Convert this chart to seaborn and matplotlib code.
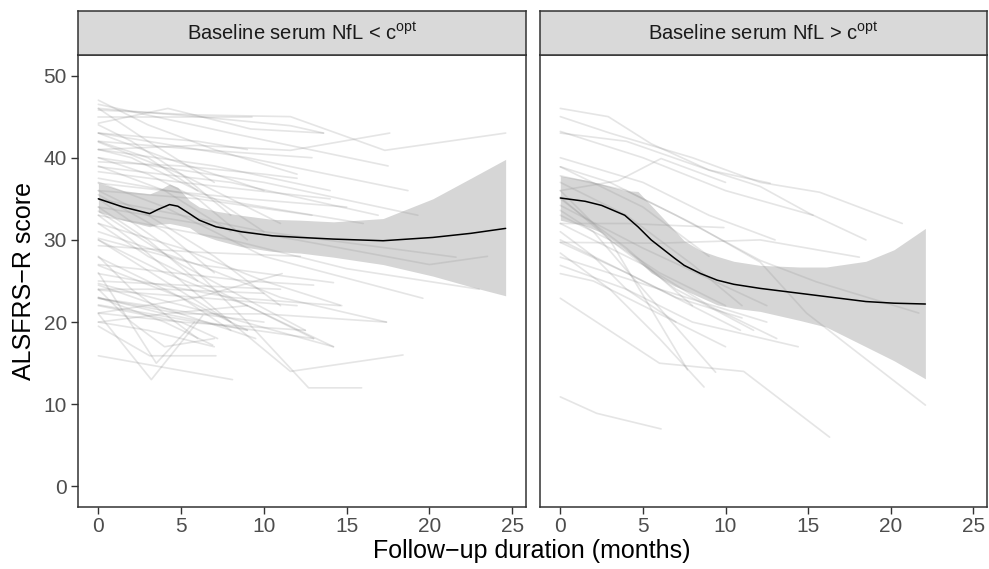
import matplotlib
matplotlib.use("Agg")
import matplotlib.pyplot as plt
import seaborn as sns
import pandas as pd

# ---------------- data ----------------
# individual trajectories, baseline NfL < c_opt
low_time = [
    [0, 3, 7, 12], [0, 4.2, 9.2, 13.6], [0, 5, 9.3], [0, 6, 11.6, 17.3, 24.6],
    [0, 6, 11.6, 17.6], [0, 6, 11.6, 13.6], [0, 8, 17.5], [0, 9, 18.7],
    [0, 6, 12.9], [0, 10, 19.3], [0, 8, 16.9], [0, 6, 12.9], [0, 7, 14],
    [0, 4, 10], [0, 5, 11], [0, 3, 6, 9], [0, 4, 8], [0, 5, 14], [0, 4, 9, 15],
    [0, 2, 5, 8], [0, 3, 6], [0, 5, 10, 12], [0, 3, 7], [0, 2, 4, 7, 10], [0, 6, 9],
    [0, 3, 7, 11], [0, 5, 10, 21.6], [0, 6, 12, 20, 23.5], [0, 8, 15, 23],
    [0, 4, 10, 19.6], [0, 5, 10, 14.7], [0, 6, 11, 17.4], [0, 4, 9, 14.2],
    [0, 5, 12.5], [0, 3, 7, 13], [0, 5, 9, 12.7, 15.9], [0, 4, 8, 11.6, 18.4],
    [0, 6, 14.2], [0, 6, 12.2], [0, 3, 6], [0, 2, 5, 8], [0, 4, 7], [0, 7, 16],
    [0, 8.1], [0, 3.1, 7.1], [0, 3.2, 6.3], [0, 3.5, 5.8], [0, 5, 7.2], [0, 4, 6.9],
    [0, 6, 12], [0, 5, 10, 17.4], [0, 7, 14.2], [0, 6, 13], [0, 5, 12.5],
    [0, 8, 14.6], [0, 4, 9], [0, 3, 7], [0, 4, 10], [0, 5, 11], [0, 3, 6, 10],
    [0, 2, 6], [0, 5, 8], [0, 4, 9], [0, 6, 11.1], [0, 9, 13], [0, 2, 4, 7],
    [0, 4, 9], [0, 5, 9.5],
]
low_score = [
    [47, 44, 41, 38], [44.2, 46, 43.5, 43], [45, 45, 45], [45.8, 45.2, 45, 40.9, 43],
    [41, 41.5, 40.9, 43], [46, 45, 43.9, 43], [46.5, 43, 39], [43, 40, 36],
    [42, 41, 40], [40, 37, 33], [38.9, 37, 33], [36, 35, 33], [41, 39, 36],
    [43, 40, 36], [41.9, 38, 32], [40, 38, 35, 30], [39, 36, 31], [38.3, 37, 35], [36.9, 36, 35, 34],
    [44, 42, 38, 33], [42, 40, 36], [39.5, 39, 38, 37.5], [46, 42, 37], [41, 40, 38, 35, 31], [43, 42, 41],
    [36, 33, 28, 22], [35, 33, 31, 27.9], [34, 32, 30, 27, 28], [33, 30, 26.5, 24],
    [37, 34, 28, 22.9], [32, 29, 25, 22], [31, 27, 23, 20], [30, 26, 22, 17],
    [33.5, 27, 19], [32, 28, 24, 18], [35, 28, 20, 12, 12], [30, 25, 20, 14, 16],
    [30.2, 27, 24.8], [29.3, 28.5, 28], [34, 30, 25], [33, 30, 25, 20], [35.5, 31, 26], [37.5, 35, 32],
    [15.9, 13], [19.5, 15.9, 15.9], [21, 13, 20.8], [26, 15, 20], [22, 20, 18], [23, 20, 17.2],
    [23.9, 23, 22], [22.9, 21, 21, 20], [24.7, 21, 17], [22.1, 20, 18], [21.1, 20, 19],
    [25.9, 23, 22], [27.9, 24, 19], [20, 19, 17], [24, 24, 23.5], [25, 24.5, 24], [22.9, 22, 21, 20],
    [28, 24, 18], [26.9, 23, 19], [23, 21, 19], [21.1, 23, 25.9], [27, 25, 24.5], [24, 20, 17, 18],
    [20, 21, 22], [24.5, 21, 18],
]

# individual trajectories, baseline NfL > c_opt
high_time = [
    [0, 2.9, 5.5, 9, 12.7], [0, 3, 8, 12.1, 15.7, 20.7], [0, 4, 9, 12.1, 15.1, 18.5],
    [0, 5, 10, 15.3], [0, 6, 12.1, 18.1], [0, 3, 7, 12.1, 15.5, 21.7],
    [0, 4, 8, 12.1, 14.9, 22.1], [0, 6, 11.1, 16.3], [0, 2.2, 6.1], [0, 3, 6, 8.7],
    [0, 2, 5, 9.4], [0, 3, 7.7], [0, 4, 8, 14.4], [0, 5, 9, 13.1], [0, 3, 7, 11.7],
    [0, 4, 10.9], [0, 5, 12.5], [0, 4, 8, 11], [0, 3.5, 6.1, 10], [0, 2, 6, 10],
    [0, 4, 9.9], [0, 5, 9, 13], [0, 3, 6, 10], [0, 2, 4, 7], [0, 6, 12.5],
    [0, 4, 8], [0, 3, 7, 11], [0, 5, 9],
]
high_score = [
    [46, 45, 41.7, 38.5, 36.9], [45, 43, 40, 37, 35.8, 32], [43, 42, 38.5, 36.5, 33.2, 30],
    [43.2, 40, 36, 33], [29.7, 29.6, 30, 27.9], [38.9, 37, 33, 27.5, 24.9, 21.1],
    [37.8, 36, 32, 27.3, 21.1, 9.9], [22.9, 15, 14, 6], [10.9, 8.9, 7.0], [28.4, 24, 18, 12.1],
    [33.6, 31, 24, 13.9], [36, 30, 14.2], [26.9, 24, 20, 17], [32, 27, 22, 18], [35.2, 30, 24, 19],
    [29.7, 26, 19], [34.2, 29, 22], [37, 33, 27, 22], [36, 37.2, 39.9, 37], [25.9, 25, 21, 17],
    [32, 32, 31.5], [40, 37, 33, 30], [33, 30, 26, 22], [31, 28, 24, 20], [27.9, 24, 20],
    [35, 29, 22], [30, 27, 23, 20.5], [38.9, 34, 28],
]

# smoothed trend with confidence band
low_fit_t = [0, 1.5, 3.1, 3.6, 4.3, 4.8, 5.5, 6.1, 7.1, 8.6, 10.5, 12.2, 14.2, 17.2, 20.2, 22.5, 24.6]
low_fit_y = [35.0, 34.0, 33.2, 33.7, 34.3, 34.1, 33.2, 32.4, 31.6, 31.0, 30.5, 30.3, 30.1, 29.9, 30.3, 30.8, 31.4]
low_fit_hi = [36.9, 36.0, 35.6, 36.0, 36.8, 36.4, 34.8, 34.0, 33.5, 33.0, 32.5, 32.4, 32.2, 32.6, 35.0, 37.5, 39.8]
low_fit_lo = [33.4, 32.4, 31.6, 31.9, 32.0, 31.8, 31.5, 30.7, 30.0, 29.2, 28.6, 28.4, 27.9, 27.0, 25.6, 24.3, 23.2]

high_fit_t = [0, 1.5, 2.5, 3.9, 4.7, 5.5, 6.9, 7.5, 8.5, 9.5, 10.5, 12.1, 14.5, 16.1, 18.5, 20.2, 22.1]
high_fit_y = [35.1, 34.7, 34.2, 33.0, 31.6, 30.0, 27.8, 26.9, 25.9, 25.1, 24.6, 24.1, 23.5, 23.1, 22.5, 22.3, 22.2]
high_fit_hi = [37.8, 37.3, 36.8, 36.0, 35.9, 34.2, 31.2, 29.9, 28.7, 28.0, 27.4, 26.9, 26.7, 26.7, 27.4, 28.8, 31.4]
high_fit_lo = [32.4, 31.7, 30.9, 28.9, 27.5, 26.0, 24.4, 23.9, 23.0, 22.1, 21.7, 21.3, 20.2, 19.4, 17.0, 15.3, 13.1]

facet_labels = [r"Baseline serum NfL < c$^{\mathregular{opt}}$",
                r"Baseline serum NfL > c$^{\mathregular{opt}}$"]
x_ticks = [0, 5, 10, 15, 20, 25]
y_ticks = [0, 10, 20, 30, 40, 50]
x_label = "Follow\u2212up duration (months)"
y_label = "ALSFRS\u2212R score"

# ---------------- figure ----------------
sns.set_theme(style="white")
plt.rcParams["font.family"] = ["Liberation Sans", "DejaVu Sans"]
plt.rcParams["mathtext.fontset"] = "custom"
plt.rcParams["mathtext.rm"] = "Liberation Sans"

W, H = 989, 569
fig = plt.figure(figsize=(W / 100, H / 100), dpi=100)
fig.patch.set_facecolor("white")

def frac(x0, y0, x1, y1):
    return [x0 / W, 1 - y1 / H, (x1 - x0) / W, (y1 - y0) / H]

panels = [frac(78, 55, 526, 507), frac(540, 55, 987, 507)]
strips = [frac(78, 11, 526, 55), frac(540, 11, 987, 55)]

def to_frame(times, scores):
    rows = []
    for i, (tt, ss) in enumerate(zip(times, scores)):
        for t, s in zip(tt, ss):
            rows.append((i, t, s))
    return pd.DataFrame(rows, columns=["id", "time", "score"])

datasets = [
    (to_frame(low_time, low_score), low_fit_t, low_fit_y, low_fit_lo, low_fit_hi),
    (to_frame(high_time, high_score), high_fit_t, high_fit_y, high_fit_lo, high_fit_hi),
]

edge = "#333333"
for k in range(2):
    ax = fig.add_axes(panels[k])
    df, ft, fy, flo, fhi = datasets[k]
    sns.lineplot(data=df, x="time", y="score", units="id", estimator=None,
                 color="#7f7f7f", alpha=0.2, linewidth=1.2, ax=ax, legend=False)
    ax.fill_between(ft, flo, fhi, color="#999999", alpha=0.4, linewidth=0, zorder=3)
    sns.lineplot(x=ft, y=fy, color="black", linewidth=1.1, ax=ax, zorder=4)
    ax.set_xlim(-1.23, 25.83)
    ax.set_ylim(-2.5, 52.5)
    ax.set_xticks(x_ticks)
    ax.set_yticks(y_ticks)
    ax.set_xlabel("")
    ax.set_ylabel("")
    ax.grid(False)
    for sp in ax.spines.values():
        sp.set_color(edge)
        sp.set_linewidth(1.1)
    ax.tick_params(axis="both", length=5, width=1.0, color=edge,
                   labelcolor="#4D4D4D", labelsize=15, direction="out",
                   bottom=True, left=(k == 0))
    ax.tick_params(axis="x", pad=2.5)
    ax.tick_params(axis="y", pad=3)
    if k == 1:
        ax.tick_params(axis="y", left=False, labelleft=False)

    sax = fig.add_axes(strips[k])
    sax.set_facecolor("#D9D9D9")
    sax.set_xticks([])
    sax.set_yticks([])
    for sp in sax.spines.values():
        sp.set_color(edge)
        sp.set_linewidth(1.1)
    sax.text(0.5, 0.5, facet_labels[k], ha="center", va="center",
             fontsize=14.5, color="#1A1A1A", transform=sax.transAxes)

fig.text(532 / W, 1 - 551 / H, x_label, ha="center", va="center", fontsize=18, color="black")
fig.text(24 / W, 1 - 281 / H, y_label, ha="center", va="center", rotation=90,
         fontsize=18, color="black")

fig.savefig("out.png", dpi=100)
